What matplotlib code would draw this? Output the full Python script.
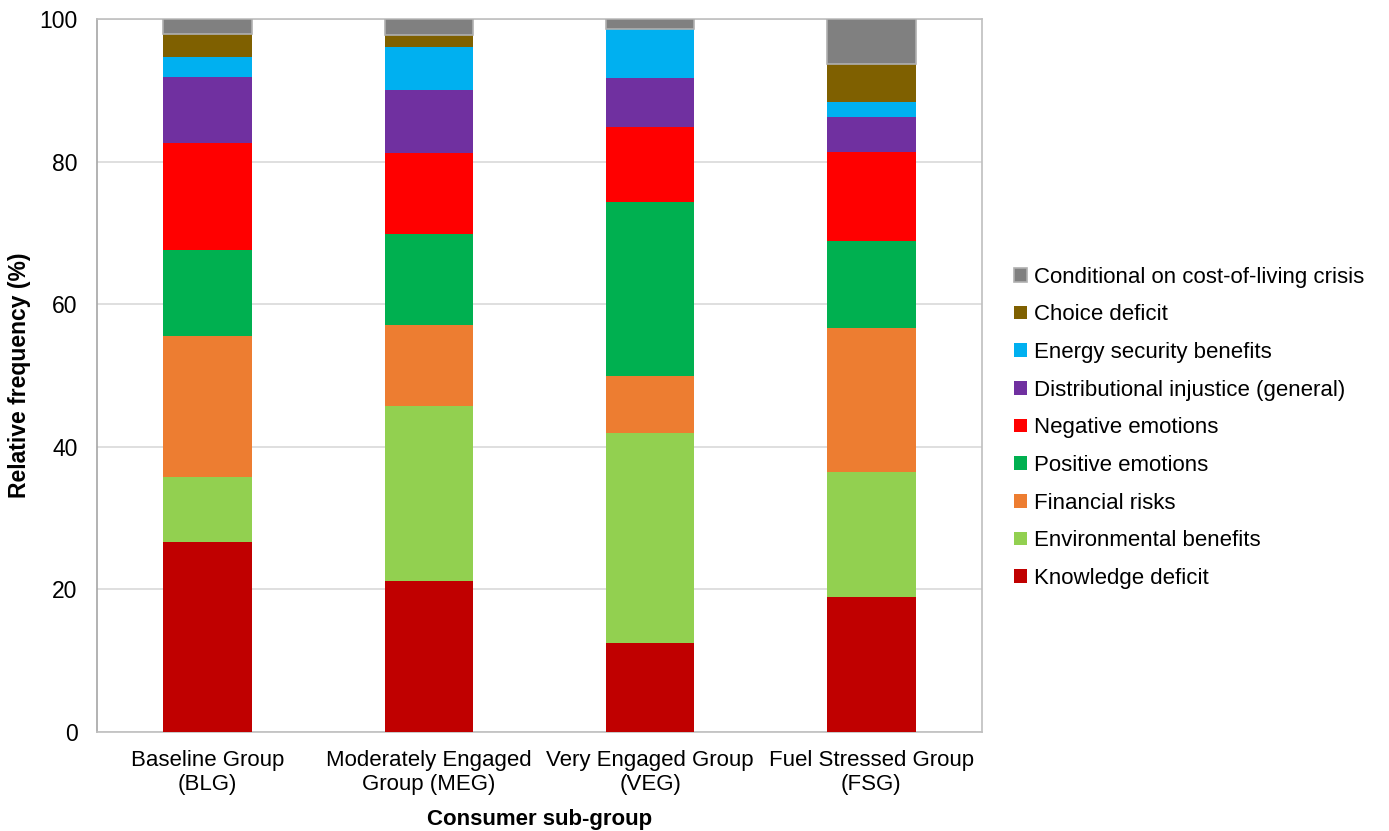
import matplotlib
matplotlib.use("Agg")
import matplotlib.pyplot as plt
import numpy as np

plt.rcParams['font.family'] = ['Liberation Sans', 'DejaVu Sans']

groups = ["Baseline Group\n(BLG)", "Moderately Engaged\nGroup (MEG)",
          "Very Engaged Group\n(VEG)", "Fuel Stressed Group\n(FSG)"]

categories = ["Knowledge deficit", "Environmental benefits", "Financial risks",
              "Positive emotions", "Negative emotions",
              "Distributional injustice (general)", "Energy security benefits",
              "Choice deficit", "Conditional on cost-of-living crisis"]

knowledge_deficit = [26.7, 21.2, 12.5, 19.0]
environmental_benefits = [9.1, 24.5, 29.4, 17.5]
financial_risks = [19.7, 11.4, 8.1, 20.1]
positive_emotions = [12.1, 12.8, 24.4, 12.2]
negative_emotions = [15.0, 11.3, 10.5, 12.6]
distributional_injustice = [9.2, 8.8, 6.8, 4.8]
energy_security = [2.9, 6.1, 6.9, 2.2]
choice_deficit = [3.2, 1.6, 0.0, 5.3]
cost_of_living = [2.1, 2.3, 1.4, 6.3]

series = [knowledge_deficit, environmental_benefits, financial_risks,
          positive_emotions, negative_emotions, distributional_injustice,
          energy_security, choice_deficit, cost_of_living]

colors = ["#C00000", "#92D050", "#ED7D31", "#00B050", "#FF0000",
          "#7030A0", "#00B0F0", "#7F6000", "#808080"]

fig = plt.figure(figsize=(13.89, 8.31), dpi=100)
ax = fig.add_axes([0.0698, 0.1191, 0.6372, 0.858])

x = np.arange(len(groups))
bottom = np.zeros(len(groups))
handles = []
for name, vals, col in zip(categories, series, colors):
    vals = np.array(vals)
    if name.startswith("Conditional"):
        h = ax.bar(x, vals, 0.4, bottom=bottom, color=col,
                   edgecolor="#b0b0b0", linewidth=1.2, label=name, zorder=3)
    else:
        h = ax.bar(x, vals, 0.4, bottom=bottom, color=col,
                   linewidth=0, label=name, zorder=3)
    handles.append(h)
    bottom += vals

ax.set_xlim(-0.5, len(groups) - 0.5)
ax.set_ylim(0, 100)
ax.set_yticks([0, 20, 40, 60, 80, 100])
ax.set_xticks(x)
ax.set_xticklabels(groups, fontsize=16)
ax.tick_params(axis='y', length=0, pad=14, labelsize=16.5)
ax.tick_params(axis='x', length=0, pad=13)
ax.grid(axis='y', color="#d9d9d9", linewidth=1.2, zorder=0)
for s in ax.spines.values():
    s.set_color("#bfbfbf")
    s.set_linewidth(1.2)
ax.spines['left'].set_color("#a6a6a6")

ax.set_ylabel("Relative frequency (%)", fontsize=16.5, fontweight='bold', labelpad=6)
ax.set_xlabel("Consumer sub-group", fontsize=16, fontweight='bold', labelpad=10)

fig.legend(handles[::-1], categories[::-1], loc='upper left',
           bbox_to_anchor=(0.730, 0.679), frameon=False, fontsize=16,
           handlelength=0.58, handleheight=0.58, handletextpad=0.3,
           labelspacing=0.75, borderpad=0, borderaxespad=0)

fig.savefig("out.png", dpi=100)
